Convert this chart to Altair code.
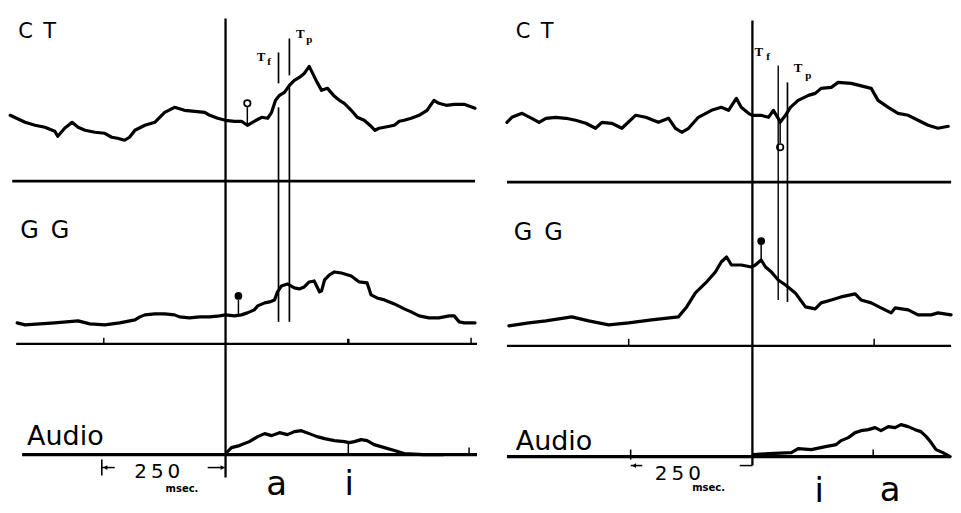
import altair as alt
import pandas as pd

# ------------- LEFT PANEL ("a i") : time in msec from voice onset, amplitude in arbitrary units -------------
L_CT_T = [-435,-405,-385,-365,-345,-339,-325,-310,-298,-284,-264,-244,-230,-218,-204,-194,-183,-163,-143,-133,
          -123,-103,-83,-62,-42,-32,-16,0,18,32,44,58,73,85,93,101,109,119,129,139,149,159,169,175,185,194,206,
          220,230,240,254,266,280,294,302,310,321,341,351,361,375,391,407,421,431,446,462,482,504]
L_CT_A = [66,59,56,54,50,45,53,59,54,51,49,48,44,43,41,44,51,56,59,64,69,74,71,70,69,66,63,61,60,60,56,60,64,63,
          69,81,86,89,96,101,104,108,115,109,99,91,93,85,81,78,71,64,61,55,51,53,54,56,60,61,63,66,71,81,78,76,77,77,73]
L_GG_T = [-421,-405,-375,-345,-298,-274,-244,-214,-183,-173,-163,-143,-123,-103,-93,-73,-52,-32,-12,0,18,32,44,58,
          65,79,89,99,105,113,125,139,149,159,169,179,190,194,200,210,220,234,254,270,286,294,306,321,341,361,375,
          391,411,431,452,462,472,482,504]
L_GG_A = [21,19,20,21,23,20,19,21,24,27,29,30,30,29,27,26,27,27,28,29,28,29,31,34,38,41,42,44,52,58,60,56,55,57,62,
          63,52,53,64,69,72,71,68,62,61,49,46,44,40,35,32,28,26,26,28,28,22,21,21]
L_AU_T = [0,4,12,28,48,65,79,93,109,125,139,153,169,185,200,220,240,250,260,274,286,300,321,341,361,400,440]
L_AU_A = [0,3,7,9,13,18,21,19,22,20,23,24,21,18,16,14,13,12,13,15,14,10,7,4,1,0,0]
L_OFFSET = {"CT": 324, "GG": 161, "Audio": 50}

# ------------- RIGHT PANEL ("i a") -------------
R_CT_T = [-504,-494,-473,-453,-438,-424,-404,-383,-363,-342,-322,-309,-289,-268,-240,-219,-193,-172,-158,-145,
          -131,-111,-84,-64,-49,-33,-23,-8,0,18,33,43,53,57,68,78,94,115,129,141,162,176,203,244,258,279,299,320,
          340,361,381,402]
R_CT_A = [60,65,69,64,60,64,65,64,62,59,54,60,59,54,67,65,60,64,54,50,54,65,72,75,72,84,75,69,67,67,65,72,64,60,
          67,75,82,87,89,94,95,100,99,94,82,75,69,67,62,57,54,56]
R_GG_T = [-500,-459,-424,-371,-336,-295,-254,-207,-152,-135,-117,-96,-76,-64,-53,-43,-23,-2,6,18,27,39,53,68,88,
          109,129,141,162,182,211,223,244,264,285,293,320,340,367,381,408]
R_GG_A = [20,23,25,29,25,21,23,26,29,39,53,63,74,84,89,81,81,79,81,86,79,74,66,61,53,39,37,43,46,49,52,46,43,38,
          33,38,36,31,31,33,31]
R_AU_T = [0,2,33,80,94,121,150,172,182,197,211,223,238,252,264,279,293,305,320,334,346,357,367,377,391,406]
R_AU_A = [0,2,3,4,8,7,10,12,16,19,24,26,27,29,26,30,29,32,30,27,25,20,14,7,4,0]
R_OFFSET = {"CT": 323, "GG": 159, "Audio": 48}

# segments: (t, t2, v, v2, width)
L_SEGS = [(-431, 504, 324, 324, 2.8), (-423, 508, 161, 161, 2.2), (-411, 508, 50, 50, 3.2),
          (0, 0, 27, 487, 2.3),
          (107, 107, 183, 398, 1.7), (107, 107, 422, 453, 1.7),
          (129, 129, 183, 420, 1.7), (129, 129, 430, 467, 1.7),
          (-246, -246, 161, 167, 1.5), (248, 248, 161, 166, 2.5), (496, 496, 161, 167, 1.5),
          (248, 248, 50, 62, 1.5), (492, 492, 50, 57, 1.5),
          (-250, -250, 29, 45, 1.6), (-250, -224, 37, 37, 1.5), (-36, -2, 37, 37, 1.5),
          (44, 44, 380, 398, 1.5), (26, 26, 189, 205, 1.5)]
R_SEGS = [(-504, 408, 323, 323, 2.8), (-504, 408, 159, 159, 2.2), (-504, 406, 48, 48, 3.2),
          (0, 0, 39, 485, 2.3),
          (53, 53, 205, 440, 1.4), (72, 72, 203, 423, 1.7),
          (-254, -254, 159, 166, 1.5), (250, 250, 159, 166, 1.5), (248, 248, 48, 55, 1.5),
          (-250, -250, 45, 55, 1.6), (-250, -226, 39, 39, 1.5), (-26, 0, 39, 39, 1.5),
          (57, 57, 362, 383, 1.5), (18, 18, 245, 260, 1.5)]

# markers: (t, v, filled)
L_MARKS = [(44, 402, False), (26, 209, True)]
R_MARKS = [(57, 358, False), (18, 264, True)]

# arrowheads of the 250 msec scale: (t, v, shape)
L_ARROWS = [(-243, 37, "triangle-left"), (-6, 37, "triangle-right")]
R_ARROWS = [(-243, 39, "triangle-left")]

# texts
L_LABELS = [("C\u2002T", -419, 467, 21), ("G\u2002G", -415, 267, 24), ("Audio", -401, 60, 27)]
R_LABELS = [("C\u2002T", -486, 467, 21), ("G\u2002G", -490, 265, 24), ("Audio", -486, 55, 27)]
L_VOWELS = [("a", 103, 10), ("i", 250, 10)]
R_VOWELS = [("i", 137, 2), ("a", 283, 3)]
L_TLAB = [("T", 72, 448, 13), ("f", 88, 443, 11), ("T", 151, 471, 13), ("p", 169, 465, 11)]
R_TLAB = [("T", 13, 453, 13), ("f", 32, 448, 11), ("T", 94, 437, 13), ("p", 115, 429, 11)]
L_SCALE = [("2\u20095\u20090", -138, 33)]
R_SCALE = [("2\u20095\u20090", -153, 31)]
L_MSEC = [("msec.", -88, 16)]
R_MSEC = [("msec.", -90, 17)]

SANS = "DejaVu Sans"
SERIF = "Liberation Serif"


def panel(traces, offsets, segs, marks, arrows, labels, vowels, tlabs, scale_txt, msec_txt, domain, width):
    xs = alt.Scale(domain=domain, nice=False, zero=False)
    ys = alt.Scale(domain=[0, 497], nice=False, zero=False)
    X = alt.X("t:Q", scale=xs, axis=None)
    Y = alt.Y("v:Q", scale=ys, axis=None)

    rows = []
    for ch, (ts, amps) in traces.items():
        for t, a in zip(ts, amps):
            rows.append({"t": t, "v": offsets[ch] + a, "ch": ch})
    tr = pd.DataFrame(rows)
    lines = alt.Chart(tr).mark_line(color="black", strokeWidth=3.2, strokeJoin="round",
                                    strokeCap="round").encode(x=X, y=Y, detail="ch:N")

    sg = pd.DataFrame(segs, columns=["t", "t2", "v", "v2", "w"])
    rules = alt.Chart(sg).mark_rule(color="black").encode(
        x=X, x2="t2:Q", y=Y, y2="v2:Q",
        strokeWidth=alt.StrokeWidth("w:Q", scale=None))

    mk = pd.DataFrame(marks, columns=["t", "v", "filled"])
    filled = alt.Chart(mk[mk["filled"]]).mark_point(shape="circle", filled=True, color="black",
                                                     size=60, opacity=1).encode(x=X, y=Y)
    openm = alt.Chart(mk[~mk["filled"]]).mark_point(shape="circle", filled=False, color="black",
                                                     size=42, strokeWidth=1.7, opacity=1).encode(x=X, y=Y)

    ar = pd.DataFrame(arrows, columns=["t", "v", "shape"])
    arr = alt.Chart(ar).mark_point(filled=True, color="black", size=22, opacity=1).encode(
        x=X, y=Y, shape=alt.Shape("shape:N", scale=None))

    lb = pd.DataFrame(labels, columns=["txt", "t", "v", "s"])
    lab = alt.Chart(lb).mark_text(align="left", baseline="alphabetic", font=SANS, color="black").encode(
        x=X, y=Y, text="txt:N", size=alt.Size("s:Q", scale=None))

    vw = pd.DataFrame(vowels, columns=["txt", "t", "v"])
    vow = alt.Chart(vw).mark_text(align="center", baseline="alphabetic", font=SANS, fontSize=34,
                                  color="black").encode(x=X, y=Y, text="txt:N")

    tl = pd.DataFrame(tlabs, columns=["txt", "t", "v", "s"])
    tlab = alt.Chart(tl).mark_text(align="center", baseline="middle", font=SERIF, fontWeight="bold",
                                   color="black").encode(
        x=X, y=Y, text="txt:N", size=alt.Size("s:Q", scale=None))

    sc = pd.DataFrame(scale_txt, columns=["txt", "t", "v"])
    sct = alt.Chart(sc).mark_text(align="center", baseline="middle", font=SANS, fontSize=20,
                                  color="black").encode(x=X, y=Y, text="txt:N")

    ms = pd.DataFrame(msec_txt, columns=["txt", "t", "v"])
    mst = alt.Chart(ms).mark_text(align="center", baseline="middle", font=SANS, fontSize=10,
                                  fontWeight="bold", color="black").encode(x=X, y=Y, text="txt:N")

    return alt.layer(rules, lines, openm, filled, arr, lab, vow, tlab, sct, mst).properties(
        width=width, height=497)


left = panel({"CT": (L_CT_T, L_CT_A), "GG": (L_GG_T, L_GG_A), "Audio": (L_AU_T, L_AU_A)},
             L_OFFSET, L_SEGS, L_MARKS, L_ARROWS, L_LABELS, L_VOWELS, L_TLAB, L_SCALE, L_MSEC,
             [-439.5, 520.1], 476)
right = panel({"CT": (R_CT_T, R_CT_A), "GG": (R_GG_T, R_GG_A), "Audio": (R_AU_T, R_AU_A)},
              R_OFFSET, R_SEGS, R_MARKS, R_ARROWS, R_LABELS, R_VOWELS, R_TLAB, R_SCALE, R_MSEC,
              [-520.4, 407.8], 453)

chart = alt.hconcat(left, right, spacing=16).properties(
    padding=0, background="white"
).configure_view(stroke=None)

chart.save("out.html", embed_options={"renderer": "svg", "actions": False})
